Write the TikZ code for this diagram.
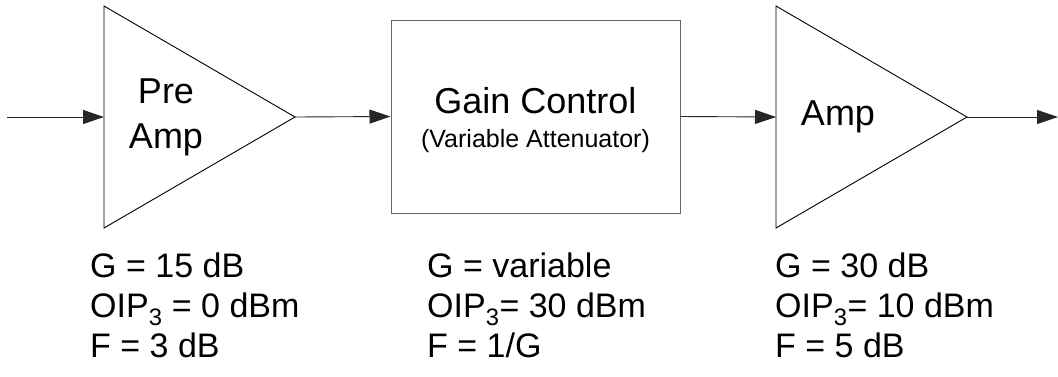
\documentclass[tikz,border=0pt]{standalone}
\usepackage{fontspec}
\setmainfont{Liberation Sans}
\usetikzlibrary{arrows.meta}
\usetikzlibrary{positioning}
\newcommand{\amplifier}[1]{\draw[line width=0.9pt] (0,-111) -- (191,0) -- (0,111) -- cycle;
					\coordinate (#1 in) at (0,0);
					\coordinate (#1 out) at (191,0);}
\tikzset{sig/.style={line width=0.9pt, black!85, -{Triangle[length=21pt,width=14pt]}},
	blockbox/.style={draw=black!60, line width=1pt, minimum width=289pt, minimum height=193pt, inner sep=0pt},
	bigtext/.style={font=\fontsize{36}{45}\selectfont, inner sep=0pt},
	subtext/.style={font=\fontsize{25}{30}\selectfont, inner sep=0pt},
	spec/.style={font=\fontsize{34}{40}\selectfont, align=left, inner sep=0pt, anchor=base west}}

\begin{document}
\begin{tikzpicture}[x=1pt, y=-1pt]
					\useasboundingbox (0,0) rectangle (1058,376);
					
					\coordinate (in) at (7,117);
					\coordinate (out) at (1058,117);
					
					\begin{scope}[shift={(104,117)}]
						\amplifier{pre}
					\end{scope}
					
					\node[blockbox] (gc) at (535.5,116.5) {};
					
					\begin{scope}[shift={(776,117)}]
						\amplifier{amp}
					\end{scope}
					
					\draw[sig] (in) -- (pre in);
					\draw[sig] (pre out) -- (gc.west);
					\draw[sig] (gc.east) -- (amp in);
					\draw[sig] (amp out) -- (out);
					
					\node[bigtext, align=center, anchor=base] (pretxt) at (166,148) {Pre\\Amp};
					\node[bigtext, anchor=base] (gctxt) at (535.5,113) {Gain Control};
					\node[subtext, anchor=base] (gcsub) at (535.5,147) {(Variable Attenuator)};
					\node[bigtext, anchor=base] (amptxt) at (838,125) {Amp};
					
					\node[spec] (prespec) at (90,357) {G = 15 dB\\OIP\textsubscript{3} = 0 dBm\\F = 3 dB};
					\node[spec] (gcspec) at (427,357) {G = variable\\OIP\textsubscript{3}= 30 dBm\\F = 1/G};
					\node[spec] (ampspec) at (775,357) {G = 30 dB\\OIP\textsubscript{3}= 10 dBm\\F = 5 dB};
					
\end{tikzpicture}
\end{document}
